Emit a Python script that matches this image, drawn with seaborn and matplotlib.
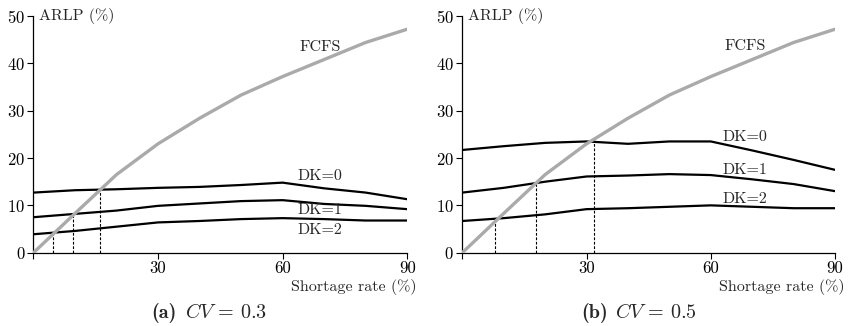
import matplotlib
matplotlib.use("Agg")
import matplotlib.pyplot as plt
import seaborn as sns
import numpy as np
import pandas as pd

# ---- data ----
shortage = [0, 10, 20, 30, 40, 50, 60, 70, 80, 90]
fcfs = [0.0, 8.3, 16.5, 23.0, 28.4, 33.3, 37.2, 40.8, 44.4, 47.2]

dk0_a = [12.7, 13.2, 13.4, 13.7, 13.9, 14.3, 14.8, 13.6, 12.7, 11.3]
dk1_a = [7.5, 8.2, 8.9, 9.9, 10.4, 10.9, 11.1, 10.3, 9.9, 9.2]
dk2_a = [3.9, 4.6, 5.5, 6.4, 6.7, 7.1, 7.3, 7.1, 6.8, 6.8]
cross_a = [4.8, 9.4, 16.1]

dk0_b = [21.7, 22.5, 23.2, 23.5, 23.0, 23.5, 23.5, 21.6, 19.6, 17.5]
dk1_b = [12.7, 13.7, 15.0, 16.1, 16.3, 16.6, 16.4, 15.5, 14.5, 13.0]
dk2_b = [6.7, 7.3, 8.1, 9.2, 9.4, 9.7, 10.0, 9.7, 9.4, 9.4]
cross_b = [8.0, 17.9, 31.8]

x_ticks = [0, 30, 60, 90]
x_ticklabels = ["", "30", "60", "90"]
y_ticks = [0, 10, 20, 30, 40, 50]

labels_a = {"FCFS": (69, 43.5), "DK=0": (69, 16.1), "DK=1": (69, 8.9), "DK=2": (69, 4.8)}
labels_b = {"FCFS": (68.3, 43.7), "DK=0": (68.3, 24.5), "DK=1": (68.3, 17.5), "DK=2": (68.3, 11.3)}
cap_tags = ["(a)", "(b)"]
cap_texts = ["$CV$ = 0.3", "$CV$ = 0.5"]

sns.set_style("ticks")
plt.rcParams["font.family"] = ["cmr10", "DejaVu Serif"]
plt.rcParams["mathtext.fontset"] = "cm"
plt.rcParams["axes.formatter.use_mathtext"] = True
plt.rcParams["font.size"] = 11

fig = plt.figure(figsize=(8.5, 3.26), dpi=100)
ax_a = fig.add_axes([0.0394, 0.2248, 0.4396, 0.7262])
ax_b = fig.add_axes([0.5439, 0.2248, 0.4385, 0.7262])

def panel(ax, dks, cross, labels, tag, cap, tag_right_px, cap_left_px):
    rows = []
    for i, x in enumerate(shortage):
        rows.append(("FCFS", x, fcfs[i]))
        for name, vals in zip(["DK=0", "DK=1", "DK=2"], dks):
            rows.append((name, x, vals[i]))
    df = pd.DataFrame(rows, columns=["series", "x", "y"])
    for x0 in cross:
        y0 = np.interp(x0, shortage, fcfs)
        ax.plot([x0, x0], [0, y0], color="black", lw=0.8, ls=(0, (2.5, 1.5)), zorder=1)
    sns.lineplot(data=df[df.series != "FCFS"], x="x", y="y", units="series",
                 estimator=None, color="black", lw=1.6, ax=ax, zorder=2)
    sns.lineplot(data=df[df.series == "FCFS"], x="x", y="y",
                 color="#aaaaaa", lw=2.4, ax=ax, zorder=3)
    for name, (tx, ty) in labels.items():
        ax.text(tx, ty, name, ha="center", va="center", fontsize=11.5)
    ax.set_xlim(0, 90)
    ax.set_ylim(0, 50)
    ax.set_xticks(x_ticks)
    ax.set_xticklabels(x_ticklabels)
    ax.set_yticks(y_ticks)
    ax.tick_params(direction="out", length=4, width=0.8, labelsize=12, pad=2, colors="black")
    for s in ["top", "right"]:
        ax.spines[s].set_visible(False)
    for s in ["left", "bottom"]:
        ax.spines[s].set_linewidth(0.9)
        ax.spines[s].set_color("black")
    ax.set_xlabel("")
    ax.set_ylabel("")
    ax.annotate("ARLP (%)", xy=(0, 1), xycoords="axes fraction", xytext=(4, 0),
                textcoords="offset points", ha="left", va="center", fontsize=11.5)
    ax.annotate("Shortage rate (%)", xy=(1, 0), xycoords="axes fraction", xytext=(7, -25),
                textcoords="offset points", ha="right", va="center", fontsize=11.5)
    yc = 1 - 313 / 326
    fig.text(tag_right_px / 850, yc, tag, ha="right", va="center", fontsize=14.5,
             family=["cmb10", "DejaVu Serif"])
    fig.text(cap_left_px / 850, yc, cap, ha="left", va="center", fontsize=14.5)

panel(ax_a, [dk0_a, dk1_a, dk2_a], cross_a, labels_a, cap_tags[0], cap_texts[0], 177, 185)
panel(ax_b, [dk0_b, dk1_b, dk2_b], cross_b, labels_b, cap_tags[1], cap_texts[1], 608, 615)

fig.savefig("out.png", dpi=100)
